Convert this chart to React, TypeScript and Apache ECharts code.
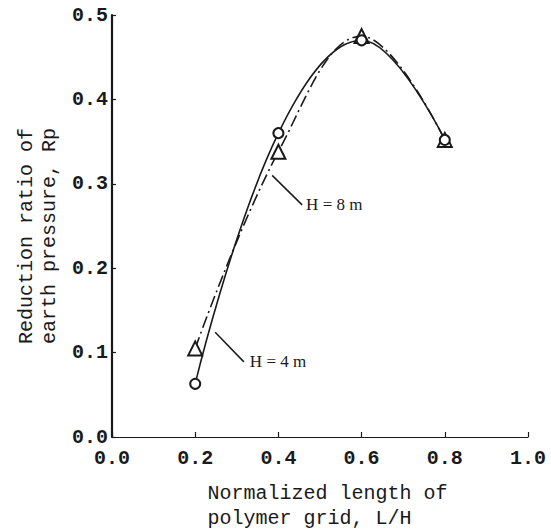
import React, { useEffect, useRef } from "react";
import * as echarts from "echarts";

const lengthRatio = [0.2, 0.4, 0.6, 0.8];
const rpH4 = [0.063, 0.36, 0.47, 0.352];
const rpH8 = [0.105, 0.338, 0.475, 0.352];
const xTicks = [0, 0.2, 0.4, 0.6, 0.8, 1.0];
const yTicks = [0, 0.1, 0.2, 0.3, 0.4, 0.5];
const labelH4 = "H = 4 m";
const labelH8 = "H = 8 m";

const INK = "#1a1a1a";
const MONO = "'Liberation Mono', 'DejaVu Sans Mono', monospace";
const SERIF = "'Liberation Serif', 'DejaVu Serif', serif";

export default function App() {
  const ref = useRef<HTMLDivElement>(null);
  useEffect(() => {
    if (!ref.current) return;
    const chart = echarts.init(ref.current, undefined, { renderer: "svg" });
    const pairs = (ys: number[]) => lengthRatio.map((x, i) => [x, ys[i]]);
    chart.setOption({
      animation: false,
      backgroundColor: "#ffffff",
      grid: {
        left: 112,
        right: 23,
        top: 15,
        bottom: 94,
        containLabel: false,
        outerBoundsMode: "none",
      },
      xAxis: {
        type: "value",
        min: xTicks[0],
        max: xTicks[xTicks.length - 1],
        interval: 0.2,
        name: "Normalized length of\npolymer grid, L/H\u00a0\u00a0\u00a0",
        nameLocation: "middle",
        nameGap: 44,
        nameTextStyle: {
          fontFamily: MONO,
          fontSize: 20,
          color: INK,
          lineHeight: 25,
          padding: [0, 0, 0, 15],
        },
        axisLine: { show: true, lineStyle: { color: INK, width: 1.2 } },
        axisTick: { show: true, inside: true, length: 5, lineStyle: { color: INK, width: 1.2 } },
        axisLabel: {
          fontFamily: MONO,
          fontSize: 20,
          fontWeight: "bold",
          color: INK,
          margin: 11,
          formatter: (v: number) => v.toFixed(1),
        },
        splitLine: { show: false },
      },
      yAxis: {
        type: "value",
        min: yTicks[0],
        max: yTicks[yTicks.length - 1],
        interval: 0.1,
        name: "Reduction ratio of\nearth pressure, Rp",
        nameLocation: "middle",
        nameRotate: 90,
        nameGap: 50,
        nameTextStyle: {
          fontFamily: MONO,
          fontSize: 20,
          color: INK,
          lineHeight: 23,
          padding: [0, 20, 0, 0],
        },
        axisLine: { show: true, lineStyle: { color: INK, width: 2.2 } },
        axisTick: { show: true, inside: true, length: 4, lineStyle: { color: INK, width: 1.2 } },
        axisLabel: {
          fontFamily: MONO,
          fontSize: 20,
          fontWeight: "bold",
          color: INK,
          margin: 4,
          formatter: (v: number) => v.toFixed(1),
        },
        splitLine: { show: false },
      },
      series: [
        {
          name: "H = 4 m",
          type: "line",
          data: pairs(rpH4),
          smooth: 0.4,
          symbol: "emptyCircle",
          symbolSize: 10,
          lineStyle: { color: INK, width: 1.6 },
          itemStyle: { color: INK, borderColor: INK, borderWidth: 1.3 },
          z: 3,
          markLine: {
            silent: true,
            symbol: "none",
            label: { show: false },
            lineStyle: { color: INK, width: 1.5, type: "solid" },
            data: [[{ coord: [0.248, 0.124] }, { coord: [0.317, 0.089] }]],
          },
          markPoint: {
            symbol: "circle",
            symbolSize: 0,
            data: [{ coord: [0.317, 0.089] }],
            label: {
              show: true,
              position: "right",
              distance: 6,
              formatter: labelH4,
              fontFamily: SERIF,
              fontSize: 17,
              color: INK,
            },
          },
        },
        {
          name: "H = 8 m",
          type: "line",
          data: pairs(rpH8),
          smooth: 0.4,
          symbol: "emptyTriangle",
          symbolSize: 14,
          lineStyle: { color: INK, width: 1.6, type: [12, 4, 2, 4] },
          itemStyle: { color: INK, borderColor: INK, borderWidth: 1.3 },
          z: 2,
          markLine: {
            silent: true,
            symbol: "none",
            label: { show: false },
            lineStyle: { color: INK, width: 1.5, type: "solid" },
            data: [[{ coord: [0.385, 0.31] }, { coord: [0.457, 0.275] }]],
          },
          markPoint: {
            symbol: "circle",
            symbolSize: 0,
            data: [{ coord: [0.457, 0.275] }],
            label: {
              show: true,
              position: "right",
              distance: 4,
              formatter: labelH8,
              fontFamily: SERIF,
              fontSize: 17,
              color: INK,
            },
          },
        },
      ],
    });
    return () => chart.dispose();
  }, []);
  return <div ref={ref} style={{ width: 551, height: 531, position: "absolute", left: 0, top: 0 }} />;
}
